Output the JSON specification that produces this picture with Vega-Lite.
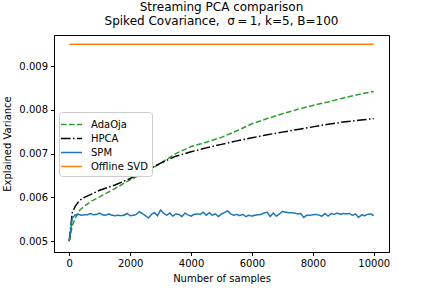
{
  "$schema": "https://vega.github.io/schema/vega-lite/v6.json",
  "width": 335,
  "height": 217,
  "autosize": {"type": "none"},
  "padding": {"left": 54, "top": 35, "right": 43, "bottom": 36},
  "background": "white",
  "config": {
    "font": "DejaVu Sans",
    "view": {"stroke": "black", "strokeWidth": 1},
    "axis": {
      "grid": false,
      "domainColor": "black",
      "tickColor": "black",
      "labelColor": "black",
      "titleColor": "black",
      "tickSize": 3.5,
      "labelFontSize": 10,
      "titleFontSize": 10,
      "titleFontWeight": "normal",
      "labelPadding": 3
    }
  },
  "title": {
    "text": ["Streaming PCA comparison", "Spiked Covariance,\u00a0 σ\u2009=\u20091, k=5, B=100"],
    "fontSize": 12,
    "fontWeight": "normal",
    "color": "black",
    "lineHeight": 14,
    "baseline": "bottom",
    "offset": 7,
    "dy": 12,
    "anchor": "middle"
  },
  "data": {
    "values": [
      {"method": "AdaOja", "n": 0, "v": 0.00500},
      {"method": "AdaOja", "n": 100, "v": 0.00535},
      {"method": "AdaOja", "n": 200, "v": 0.00552},
      {"method": "AdaOja", "n": 350, "v": 0.00571},
      {"method": "AdaOja", "n": 500, "v": 0.00580},
      {"method": "AdaOja", "n": 750, "v": 0.00592},
      {"method": "AdaOja", "n": 1000, "v": 0.00601},
      {"method": "AdaOja", "n": 1500, "v": 0.00620},
      {"method": "AdaOja", "n": 2000, "v": 0.00640},
      {"method": "AdaOja", "n": 2500, "v": 0.00657},
      {"method": "AdaOja", "n": 3000, "v": 0.00678},
      {"method": "AdaOja", "n": 3500, "v": 0.00700},
      {"method": "AdaOja", "n": 4000, "v": 0.00716},
      {"method": "AdaOja", "n": 4500, "v": 0.00726},
      {"method": "AdaOja", "n": 5000, "v": 0.00737},
      {"method": "AdaOja", "n": 5500, "v": 0.00752},
      {"method": "AdaOja", "n": 6000, "v": 0.00768},
      {"method": "AdaOja", "n": 6500, "v": 0.00780},
      {"method": "AdaOja", "n": 7000, "v": 0.00791},
      {"method": "AdaOja", "n": 7500, "v": 0.00801},
      {"method": "AdaOja", "n": 8000, "v": 0.00810},
      {"method": "AdaOja", "n": 8500, "v": 0.00818},
      {"method": "AdaOja", "n": 9000, "v": 0.00827},
      {"method": "AdaOja", "n": 9500, "v": 0.00835},
      {"method": "AdaOja", "n": 10000, "v": 0.00842},
      {"method": "HPCA", "n": 0, "v": 0.00500},
      {"method": "HPCA", "n": 100, "v": 0.00565},
      {"method": "HPCA", "n": 200, "v": 0.00580},
      {"method": "HPCA", "n": 350, "v": 0.00594},
      {"method": "HPCA", "n": 500, "v": 0.00600},
      {"method": "HPCA", "n": 750, "v": 0.00608},
      {"method": "HPCA", "n": 1000, "v": 0.00616},
      {"method": "HPCA", "n": 1500, "v": 0.00628},
      {"method": "HPCA", "n": 2000, "v": 0.00643},
      {"method": "HPCA", "n": 2500, "v": 0.00660},
      {"method": "HPCA", "n": 3000, "v": 0.00678},
      {"method": "HPCA", "n": 3500, "v": 0.00694},
      {"method": "HPCA", "n": 4000, "v": 0.00704},
      {"method": "HPCA", "n": 4500, "v": 0.00713},
      {"method": "HPCA", "n": 5000, "v": 0.00721},
      {"method": "HPCA", "n": 5500, "v": 0.00729},
      {"method": "HPCA", "n": 6000, "v": 0.00736},
      {"method": "HPCA", "n": 6500, "v": 0.00743},
      {"method": "HPCA", "n": 7000, "v": 0.00749},
      {"method": "HPCA", "n": 7500, "v": 0.00755},
      {"method": "HPCA", "n": 8000, "v": 0.00761},
      {"method": "HPCA", "n": 8500, "v": 0.00767},
      {"method": "HPCA", "n": 9000, "v": 0.00772},
      {"method": "HPCA", "n": 9500, "v": 0.00776},
      {"method": "HPCA", "n": 10000, "v": 0.00780},
      {"method": "SPM", "n": 0, "v": 0.00500},
      {"method": "SPM", "n": 100, "v": 0.00552},
      {"method": "SPM", "n": 200, "v": 0.00560},
      {"method": "SPM", "n": 300, "v": 0.00561},
      {"method": "SPM", "n": 400, "v": 0.00559},
      {"method": "SPM", "n": 500, "v": 0.00560},
      {"method": "SPM", "n": 600, "v": 0.00560},
      {"method": "SPM", "n": 700, "v": 0.00563},
      {"method": "SPM", "n": 800, "v": 0.00560},
      {"method": "SPM", "n": 900, "v": 0.00561},
      {"method": "SPM", "n": 1000, "v": 0.00564},
      {"method": "SPM", "n": 1100, "v": 0.00560},
      {"method": "SPM", "n": 1200, "v": 0.00559},
      {"method": "SPM", "n": 1300, "v": 0.00562},
      {"method": "SPM", "n": 1400, "v": 0.00559},
      {"method": "SPM", "n": 1500, "v": 0.00558},
      {"method": "SPM", "n": 1600, "v": 0.00559},
      {"method": "SPM", "n": 1700, "v": 0.00558},
      {"method": "SPM", "n": 1800, "v": 0.00559},
      {"method": "SPM", "n": 1900, "v": 0.00563},
      {"method": "SPM", "n": 2000, "v": 0.00558},
      {"method": "SPM", "n": 2100, "v": 0.00559},
      {"method": "SPM", "n": 2200, "v": 0.00561},
      {"method": "SPM", "n": 2300, "v": 0.00567},
      {"method": "SPM", "n": 2400, "v": 0.00563},
      {"method": "SPM", "n": 2500, "v": 0.00558},
      {"method": "SPM", "n": 2600, "v": 0.00553},
      {"method": "SPM", "n": 2700, "v": 0.00561},
      {"method": "SPM", "n": 2800, "v": 0.00565},
      {"method": "SPM", "n": 2900, "v": 0.00558},
      {"method": "SPM", "n": 3000, "v": 0.00571},
      {"method": "SPM", "n": 3100, "v": 0.00563},
      {"method": "SPM", "n": 3200, "v": 0.00559},
      {"method": "SPM", "n": 3300, "v": 0.00564},
      {"method": "SPM", "n": 3400, "v": 0.00557},
      {"method": "SPM", "n": 3500, "v": 0.00562},
      {"method": "SPM", "n": 3600, "v": 0.00561},
      {"method": "SPM", "n": 3700, "v": 0.00556},
      {"method": "SPM", "n": 3800, "v": 0.00564},
      {"method": "SPM", "n": 3900, "v": 0.00560},
      {"method": "SPM", "n": 4000, "v": 0.00557},
      {"method": "SPM", "n": 4100, "v": 0.00561},
      {"method": "SPM", "n": 4200, "v": 0.00562},
      {"method": "SPM", "n": 4300, "v": 0.00561},
      {"method": "SPM", "n": 4400, "v": 0.00566},
      {"method": "SPM", "n": 4500, "v": 0.00559},
      {"method": "SPM", "n": 4600, "v": 0.00565},
      {"method": "SPM", "n": 4700, "v": 0.00559},
      {"method": "SPM", "n": 4800, "v": 0.00562},
      {"method": "SPM", "n": 4900, "v": 0.00556},
      {"method": "SPM", "n": 5000, "v": 0.00562},
      {"method": "SPM", "n": 5100, "v": 0.00565},
      {"method": "SPM", "n": 5200, "v": 0.00569},
      {"method": "SPM", "n": 5300, "v": 0.00562},
      {"method": "SPM", "n": 5400, "v": 0.00559},
      {"method": "SPM", "n": 5500, "v": 0.00561},
      {"method": "SPM", "n": 5600, "v": 0.00558},
      {"method": "SPM", "n": 5700, "v": 0.00561},
      {"method": "SPM", "n": 5800, "v": 0.00556},
      {"method": "SPM", "n": 5900, "v": 0.00559},
      {"method": "SPM", "n": 6000, "v": 0.00557},
      {"method": "SPM", "n": 6100, "v": 0.00559},
      {"method": "SPM", "n": 6200, "v": 0.00560},
      {"method": "SPM", "n": 6300, "v": 0.00561},
      {"method": "SPM", "n": 6400, "v": 0.00564},
      {"method": "SPM", "n": 6500, "v": 0.00566},
      {"method": "SPM", "n": 6600, "v": 0.00556},
      {"method": "SPM", "n": 6700, "v": 0.00564},
      {"method": "SPM", "n": 6800, "v": 0.00557},
      {"method": "SPM", "n": 6900, "v": 0.00562},
      {"method": "SPM", "n": 7000, "v": 0.00568},
      {"method": "SPM", "n": 7100, "v": 0.00566},
      {"method": "SPM", "n": 7200, "v": 0.00565},
      {"method": "SPM", "n": 7300, "v": 0.00565},
      {"method": "SPM", "n": 7400, "v": 0.00564},
      {"method": "SPM", "n": 7500, "v": 0.00562},
      {"method": "SPM", "n": 7600, "v": 0.00563},
      {"method": "SPM", "n": 7700, "v": 0.00554},
      {"method": "SPM", "n": 7800, "v": 0.00559},
      {"method": "SPM", "n": 7900, "v": 0.00559},
      {"method": "SPM", "n": 8000, "v": 0.00560},
      {"method": "SPM", "n": 8100, "v": 0.00561},
      {"method": "SPM", "n": 8200, "v": 0.00559},
      {"method": "SPM", "n": 8300, "v": 0.00557},
      {"method": "SPM", "n": 8400, "v": 0.00563},
      {"method": "SPM", "n": 8500, "v": 0.00557},
      {"method": "SPM", "n": 8600, "v": 0.00563},
      {"method": "SPM", "n": 8700, "v": 0.00561},
      {"method": "SPM", "n": 8800, "v": 0.00564},
      {"method": "SPM", "n": 8900, "v": 0.00561},
      {"method": "SPM", "n": 9000, "v": 0.00563},
      {"method": "SPM", "n": 9100, "v": 0.00562},
      {"method": "SPM", "n": 9200, "v": 0.00563},
      {"method": "SPM", "n": 9300, "v": 0.00559},
      {"method": "SPM", "n": 9400, "v": 0.00562},
      {"method": "SPM", "n": 9500, "v": 0.00554},
      {"method": "SPM", "n": 9600, "v": 0.00560},
      {"method": "SPM", "n": 9700, "v": 0.00558},
      {"method": "SPM", "n": 9800, "v": 0.00561},
      {"method": "SPM", "n": 9900, "v": 0.00562},
      {"method": "SPM", "n": 10000, "v": 0.00558},
      {"method": "Offline SVD", "n": 0, "v": 0.00950},
      {"method": "Offline SVD", "n": 10000, "v": 0.00950}
    ]
  },
  "mark": {"type": "line", "strokeWidth": 1.5, "clip": true},
  "encoding": {
    "x": {
      "field": "n",
      "type": "quantitative",
      "scale": {"domain": [-500, 10500], "nice": false, "zero": false},
      "axis": {"values": [0, 2000, 4000, 6000, 8000, 10000], "format": "d", "title": "Number of samples", "titlePadding": 5}
    },
    "y": {
      "field": "v",
      "type": "quantitative",
      "scale": {"domain": [0.00475, 0.00971], "nice": false, "zero": false},
      "axis": {"values": [0.005, 0.006, 0.007, 0.008, 0.009], "format": ".3f", "title": "Explained Variance", "titlePadding": 6}
    },
    "color": {
      "field": "method",
      "type": "nominal",
      "scale": {
        "domain": ["AdaOja", "HPCA", "SPM", "Offline SVD"],
        "range": ["#2ca02c", "#000000", "#1f77b4", "#ff7f0e"]
      },
      "legend": {
        "title": null,
        "orient": "none",
        "legendX": 5,
        "legendY": 77,
        "symbolType": "M-1.4,0H1.4",
        "symbolSize": 225,
        "symbolStrokeWidth": 1.5,
        "labelFontSize": 10,
        "labelColor": "black",
        "labelOffset": 11,
        "rowPadding": 0,
        "padding": 4,
        "strokeColor": "#cccccc",
        "fillColor": "white",
        "cornerRadius": 3
      }
    },
    "strokeDash": {
      "field": "method",
      "type": "nominal",
      "scale": {
        "domain": ["AdaOja", "HPCA", "SPM", "Offline SVD"],
        "range": [[5.55, 2.4], [9.6, 2.4, 1.5, 2.4], [1, 0], [1, 0]]
      },
      "legend": {
        "title": null,
        "orient": "none",
        "legendX": 5,
        "legendY": 77,
        "symbolType": "M-1.4,0H1.4",
        "symbolSize": 225,
        "symbolStrokeWidth": 1.5,
        "labelFontSize": 10,
        "labelColor": "black",
        "labelOffset": 11,
        "rowPadding": 0,
        "padding": 4,
        "strokeColor": "#cccccc",
        "fillColor": "white",
        "cornerRadius": 3
      }
    }
  }
}
